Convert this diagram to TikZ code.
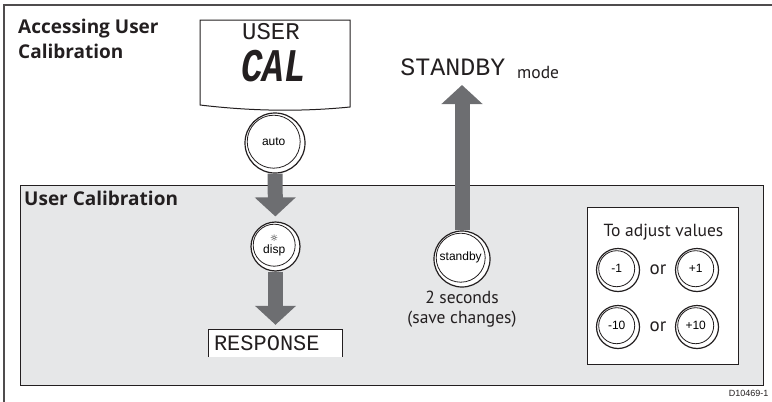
\documentclass[tikz,border=0pt]{standalone}
\usepackage{fontspec}
\setmainfont{PT Sans}
\newfontfamily\headfont{Open Sans}
\newfontfamily\lcdfont{Liberation Mono}
\newfontfamily\keyfont{Liberation Sans}
\newfontfamily\symfont{DejaVu Sans}
\usetikzlibrary{arrows.meta,positioning}
\definecolor{panelgray}{HTML}{E6E7E8}
\definecolor{arrowgray}{HTML}{6D6E71}
\definecolor{inkgray}{HTML}{231F20}
\newcommand{\keybutton}[4]{\node[keyring, minimum size={2*#3pt}] (#1) at (#2) {};\node[keyface, minimum size={2*#3pt-7pt}] at ([shift={(-1.3,-1.3)}]#1.center) {#4};}
\tikzset{
  keyring/.style={circle, draw=inkgray, line width=1.2pt, fill=white, inner sep=0pt},
  keyface/.style={circle, draw=inkgray, line width=0.8pt, inner sep=0pt, align=center, font=\keyfont\fontsize{12}{12}\selectfont},
  blockarrow/.style={draw=arrowgray, line width=15pt, -{Triangle[width=40pt, length=19pt]}, shorten >=5pt},
  heading/.style={font=\headfont\bfseries\fontsize{19}{25}\selectfont, inner sep=0pt, text=inkgray},
  bodytext/.style={font=\fontsize{17.5}{20}\selectfont, inner sep=0pt, text=inkgray},
  lcdtext/.style={font=\lcdfont\fontsize{24}{24}\selectfont, inner sep=0pt, text=inkgray},
  framebox/.style={draw=inkgray, line width=1pt}
}
\begin{document}
\begin{tikzpicture}[x=1pt, y=-1pt]
\useasboundingbox (0,0) rectangle (772,402);
\draw[draw=inkgray!80, line width=1.6pt] (4,402) -- (4,5) -- (772,5);
\node[heading, anchor=north west, align=left] (access) at (18,19) {Accessing User\\Calibration};
% handset display
\draw[framebox, fill=white] (200,20) -- (350,20) -- (350,107) .. controls (300,112) and (250,111) .. (200,105) -- cycle;
\node[lcdtext] (user) at (271,31.5) {USER};
\node[lcdtext, font=\lcdfont\bfseries\itshape\fontsize{36}{36}\selectfont] (cal) at (273.5,66) {\scalebox{1}[1.3]{CAL}};
\keybutton{auto}{275,143}{30}{auto}
% calibration panel
\node[framebox, fill=panelgray, anchor=north west, minimum width=743pt, minimum height=200pt] (panel) at (20,185) {};
\node[heading, anchor=base west] (usercal) at (24,205) {User Calibration};
\keybutton{disp}{275.5,246.5}{24.5}{{\symfont\fontsize{9}{9}\selectfont ☼}\\disp}
\draw[blockarrow] (auto) -- (disp);
\node[minimum width=133pt, minimum height=27pt, inner sep=0pt] (resp) at (275.5,343.5) {};
\draw[framebox, fill=white] (resp.south west) |- (resp.north east) -- (resp.south east);
\node[lcdtext, font=\lcdfont\fontsize{22}{22}\selectfont, anchor=west] (resptxt) at ([xshift=5pt]resp.west) {RESPONSE};
\draw[blockarrow] (disp) -- (resp);
% back to standby
\node[lcdtext, font=\lcdfont\fontsize{25}{25}\selectfont, anchor=base] (stbytxt) at (453,75) {STANDBY};
\node[bodytext, anchor=base west] (mode) at (517,78) {mode};
\keybutton{stby}{462,259}{28}{standby}
\coordinate (stbytip) at (462,80);
\draw[blockarrow] (stby) -- (stbytip);
\node[bodytext, align=center, below=3pt of stby] (twosec) {2 seconds\\(save changes)};
% adjust keys
\node[framebox, fill=white, anchor=north west, minimum width=151pt, minimum height=157pt] (adjust) at (587,207) {};
\node[bodytext, anchor=base] (adjtitle) at (663.5,236) {To adjust values};
\keybutton{minusone}{618,270}{21.5}{-1}
\node[bodytext, font=\fontsize{19}{20}\selectfont] (orone) at (658,270) {or};
\keybutton{plusone}{697,270}{21.5}{+1}
\keybutton{minusten}{618,327}{21.5}{-10}
\node[bodytext, font=\fontsize{19}{20}\selectfont] (orten) at (658,327) {or};
\keybutton{plusten}{697,327}{21.5}{+10}
\node[font=\keyfont\fontsize{9}{9}\selectfont, anchor=east, text=inkgray] (figid) at (772,393) {D10469-1};
\end{tikzpicture}
\end{document}
